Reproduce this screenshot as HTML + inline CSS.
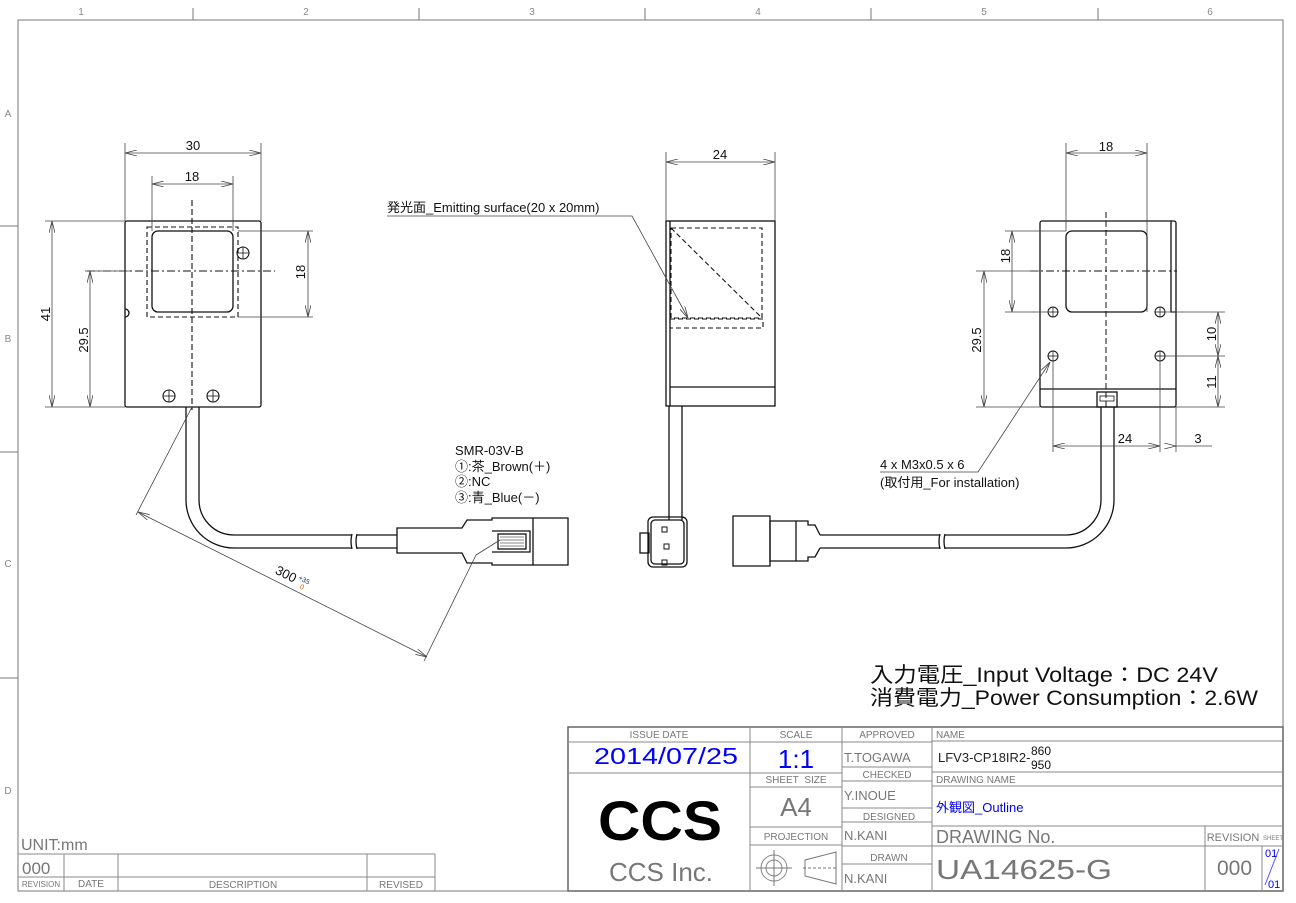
<!DOCTYPE html>
<html><head><meta charset="utf-8"><style>
html,body{margin:0;padding:0;background:#fff;width:1296px;height:903px;overflow:hidden}
svg{display:block}
text{font-family:"Liberation Sans","Noto Sans CJK JP",sans-serif}
</style></head><body>
<svg width="1296" height="903" viewBox="0 0 1296 903" xmlns="http://www.w3.org/2000/svg">
<defs>
<marker id="a" markerWidth="12" markerHeight="6" refX="12" refY="3" orient="auto" markerUnits="userSpaceOnUse"><path d="M0,0 L12,3 L0,6" fill="none" stroke="#444" stroke-width="0.8"/></marker>
<marker id="b" markerWidth="12" markerHeight="6" refX="0" refY="3" orient="auto" markerUnits="userSpaceOnUse"><path d="M12,0 L0,3 L12,6" fill="none" stroke="#444" stroke-width="0.8"/></marker>
</defs>
<!-- frame -->
<g stroke="#777" stroke-width="1" fill="none">
<rect x="18" y="20" width="1265" height="871"/>
<path d="M193,8V20M419,8V20M645,8V20M871,8V20M1098,8V20M0,226H18M0,452H18M0,678H18"/>
</g>
<g fill="#888" font-size="10" text-anchor="middle">
<text x="81" y="15">1</text><text x="306" y="15">2</text><text x="532" y="15">3</text><text x="758" y="15">4</text><text x="984" y="15">5</text><text x="1210" y="15">6</text>
<text x="8" y="117">A</text><text x="8" y="342">B</text><text x="8" y="567">C</text><text x="8" y="794">D</text>
</g>

<!-- LEFT VIEW -->
<g stroke="#111" fill="none" stroke-width="1.3">
<rect x="125" y="221" width="136" height="186" rx="2"/>
<rect x="152" y="231" width="81" height="81" rx="6"/>
<path d="M125,309 a4,4 0 0 1 0,8"/>
<path d="M186,407 V500 a48,48 0 0 0 48,48 H352 M199,407 V500 a35,35 0 0 0 35,35 H352"/>
<path d="M357,535 H397 M357,548 H397 M352,534 q-2,7 0,15 M357,534 q-2,7 0,15"/>
<path d="M397,528 H462 L467,520 H492 V518 H533 V565 H492 V563 H467 L462,553 H397 Z"/>
<path d="M533,518 H568 V565 H533"/><path d="M492,531 H530 V552 H492"/>
<rect x="498" y="534" width="28" height="15"/>
<path d="M500,537H524M500,540H524M500,543H524M500,546H524" stroke-width="0.6"/>
</g>
<g stroke="#111" stroke-width="1.1" fill="none">
<rect x="147" y="227" width="91" height="90" stroke-dasharray="5,3"/>
<path d="M192,200 V410" stroke-dasharray="6,3"/>
<path d="M87,271 H275" stroke-dasharray="8,3,2,3"/>
<circle cx="243" cy="253" r="6"/><circle cx="169" cy="396" r="6"/><circle cx="213" cy="396" r="6"/>
<path d="M237,253h12M243,247v12M163,396h12M169,390v12M207,396h12M213,390v12" stroke-width="0.8"/>
</g>
<g stroke="#444" stroke-width="0.8" fill="none">
<path d="M125,143V221M261,143V221M152,176V231M233,176V231M238,231H313M238,317H313M45,221H125M45,407H125M85,271H130M85,407H125"/>
<path d="M125,153H261" marker-start="url(#b)" marker-end="url(#a)"/>
<path d="M152,184H233" marker-start="url(#b)" marker-end="url(#a)"/>
<path d="M308,231V317" marker-start="url(#b)" marker-end="url(#a)"/>
<path d="M52,221V407" marker-start="url(#b)" marker-end="url(#a)"/>
<path d="M90,271V407" marker-start="url(#b)" marker-end="url(#a)"/>
<path d="M192,407L136,515M476,555L424,661"/>
<path d="M138,512L427,657" marker-start="url(#b)" marker-end="url(#a)"/>
<path d="M476,555L500,540"/>
</g>
<g font-size="13" fill="#111" text-anchor="middle">
<text x="193" y="150">30</text><text x="192" y="181">18</text>
<text transform="translate(305,272) rotate(-90)">18</text>
<text transform="translate(50,314) rotate(-90)">41</text>
<text transform="translate(88,340) rotate(-90)">29.5</text>
<text transform="translate(284,578) rotate(27)">300</text>
<text transform="translate(303,582) rotate(27)" font-size="7" fill="#236">+35</text>
<text transform="translate(301,589) rotate(27)" font-size="7" fill="#c60">0</text>
</g>
<g font-size="13" fill="#111">
<text x="455" y="455">SMR-03V-B</text>
<text x="455" y="471">①:茶_Brown(＋)</text>
<text x="455" y="486">②:NC</text>
<text x="455" y="502">③:青_Blue(－)</text>
</g>

<!-- SIDE VIEW -->
<g stroke="#111" stroke-width="1.3" fill="none">
<rect x="666" y="221" width="109" height="185"/>
<path d="M670,221V406M670,387H775M669,406V520M682,406V520"/>
<rect x="648" y="517" width="39" height="50" rx="5"/><rect x="651" y="520" width="33" height="44" rx="4"/>
<rect x="640" y="533" width="9" height="20"/>
<path d="M662,527h5v5h-5zM664,544h5v5h-5zM662,560h5v5h-5z" stroke-width="1"/>
</g>
<g stroke="#111" stroke-width="1.1" fill="none" stroke-dasharray="5,3">
<rect x="671" y="228" width="91" height="90"/><path d="M671,228L762,318"/>
<rect x="670" y="319" width="93" height="9"/>
</g>
<g stroke="#444" stroke-width="0.8" fill="none">
<path d="M666,152V221M775,152V221"/>
<path d="M666,162H775" marker-start="url(#b)" marker-end="url(#a)"/>
<path d="M387,216H632L688,318" marker-end="url(#a)"/>
</g>
<text x="720" y="159" font-size="13" text-anchor="middle" fill="#111">24</text>
<text x="387" y="212" font-size="13" fill="#111">発光面_Emitting surface(20 x 20mm)</text>

<!-- RIGHT VIEW -->
<g stroke="#111" stroke-width="1.3" fill="none">
<rect x="1040" y="221" width="136" height="186" rx="2"/>
<rect x="1066" y="231" width="81" height="81" rx="6"/>
<path d="M1171,221V312H1176M1040,389H1176"/>
<rect x="1097" y="392" width="20" height="15"/><rect x="1100" y="396" width="14" height="5" stroke-width="0.8"/>
<path d="M1101,407V500 a35,35 0 0 1 -35,35 H945 M1114,407V500 a48,48 0 0 1 -48,48 H945"/>
<path d="M945,534 q-2,7 0,15 M940,534 q-2,7 0,15 M940,535H820M940,548H820"/>
<path d="M820,535 L815,525 H808 V521 H770 V561 H808 V557 H815 L820,548"/>
<path d="M796,521V561M770,516V566M733,516H770V566H733Z"/>
</g>
<g stroke="#111" stroke-width="1" fill="none">
<circle cx="1053" cy="312" r="5"/><circle cx="1160" cy="312" r="5"/><circle cx="1053" cy="356" r="5"/><circle cx="1160" cy="356" r="5"/>
<path d="M1053,307v10M1048,312h10M1160,307v10M1155,312h10M1053,351v10M1048,356h10M1160,351v10M1155,356h10" stroke-width="0.7"/>
<path d="M1106,212V410" stroke-dasharray="6,3"/>
<path d="M1030,271H1177" stroke-dasharray="8,3,2,3"/>
</g>
<g stroke="#444" stroke-width="0.8" fill="none">
<path d="M1066,143V231M1147,143V312M1005,231H1066M1005,312H1050M976,271H1040M976,407H1040M1165,312H1225M1165,356H1225M1176,407H1225M1053,361V452M1160,361V452M1176,407V452"/>
<path d="M1066,153H1147" marker-start="url(#b)" marker-end="url(#a)"/>
<path d="M1012,231V312" marker-start="url(#b)" marker-end="url(#a)"/>
<path d="M984,271V407" marker-start="url(#b)" marker-end="url(#a)"/>
<path d="M1218,312V356" marker-start="url(#b)" marker-end="url(#a)"/>
<path d="M1218,356V407" marker-start="url(#b)" marker-end="url(#a)"/>
<path d="M1053,446H1160" marker-start="url(#b)" marker-end="url(#a)"/>
<path d="M1176,446H1212" marker-start="url(#a)"/>
<path d="M880,472H978L1050,362" marker-end="url(#a)"/>
</g>
<g font-size="13" fill="#111" text-anchor="middle">
<text x="1106" y="151">18</text>
<text transform="translate(1010,256) rotate(-90)">18</text>
<text transform="translate(981,340) rotate(-90)">29.5</text>
<text transform="translate(1216,334) rotate(-90)">10</text>
<text transform="translate(1216,382) rotate(-90)">11</text>
<text x="1125" y="443">24</text><text x="1198" y="443">3</text>
</g>
<g font-size="13" fill="#111">
<text x="880" y="469">4 x M3x0.5 x 6</text>
<text x="880" y="487">(取付用_For installation)</text>
</g>

<!-- power -->
<g font-size="21" fill="#111">
<text x="870" y="682" textLength="348" lengthAdjust="spacingAndGlyphs">入力電圧_Input Voltage：DC 24V</text>
<text x="870" y="705" textLength="388" lengthAdjust="spacingAndGlyphs">消費電力_Power Consumption：2.6W</text>
</g>

<!-- TITLE BLOCK -->
<g stroke="#888" stroke-width="1" fill="none">
<rect x="568" y="727" width="715" height="164" stroke="#666" stroke-width="1.5"/>
<path d="M750,727V891M842,727V891M932,727V891M1205,826V891M1262,846V891"/>
<path d="M568,742H932M568,773H842M750,787H842M750,827H842M750,845H842M842,767H932M842,781H932M842,808H932M842,822H932M842,846H932M842,864H932M932,741H1283M932,772H1283M932,786H1283M932,826H1283M932,846H1283"/>
<circle cx="774" cy="868" r="13"/><circle cx="774" cy="868" r="8"/><path d="M756,868H792M774,850V886M805,860L836,852V884L805,876Z" stroke="#777"/>
<path d="M803,868H838" stroke-dasharray="3,2" stroke="#777"/>
<path d="M1265,885L1279,849" stroke="#55f"/>
</g>
<g font-size="10" fill="#777" text-anchor="middle">
<text x="659" y="738">ISSUE DATE</text><text x="796" y="738">SCALE</text><text x="887" y="738">APPROVED</text>
<text x="796" y="783">SHEET&#160;&#160;SIZE</text><text x="796" y="840">PROJECTION</text>
<text x="887" y="778">CHECKED</text><text x="889" y="820">DESIGNED</text><text x="889" y="861">DRAWN</text>
<text x="1233" y="841" font-size="11">REVISION</text><text x="1273" y="840" font-size="6">SHEET</text>
</g>
<g font-size="10" fill="#777">
<text x="936" y="738">NAME</text><text x="936" y="783">DRAWING NAME</text>
</g>
<g fill="#777">
<text x="844" y="762" font-size="13">T.TOGAWA</text>
<text x="844" y="800" font-size="13">Y.INOUE</text>
<text x="844" y="840" font-size="13">N.KANI</text>
<text x="844" y="883" font-size="13">N.KANI</text>
<text x="936" y="843" font-size="18">DRAWING No.</text>
<text x="936" y="879" font-size="28" textLength="176" lengthAdjust="spacingAndGlyphs">UA14625-G</text>
<text x="1217" y="875" font-size="21">000</text>
<text x="796" y="816" font-size="26" text-anchor="middle">A4</text>
<text x="661" y="881" font-size="26" text-anchor="middle">CCS Inc.</text>
</g>
<g fill="#00f">
<text x="594" y="764" font-size="23" textLength="144" lengthAdjust="spacingAndGlyphs">2014/07/25</text>
<text x="796" y="768" font-size="26" text-anchor="middle">1:1</text>
<text x="936" y="812" font-size="13">外観図_Outline</text>
<text x="1265" y="857" font-size="11">01</text>
<text x="1268" y="888" font-size="11">01</text>
</g>
<text x="938" y="762" font-size="13" fill="#222">LFV3-CP18IR2-</text>
<text x="1031" y="755" font-size="12" fill="#111">860</text>
<text x="1031" y="769" font-size="12" fill="#111">950</text>
<!-- logo -->
<text x="598" y="840" font-size="56" font-weight="bold" fill="#000" textLength="124" lengthAdjust="spacingAndGlyphs">CCS</text>

<!-- REVISION TABLE -->
<g stroke="#888" stroke-width="1" fill="none">
<path d="M18,854H435V891M64,854V891M118,854V891M367,854V891M18,877H435"/>
</g>
<g fill="#777">
<text x="21" y="850" font-size="16">UNIT:mm</text>
<text x="22" y="874" font-size="17">000</text>
<g font-size="10" text-anchor="middle"><text x="41" y="887" font-size="8">REVISION</text><text x="91" y="887">DATE</text><text x="243" y="888">DESCRIPTION</text><text x="401" y="888">REVISED</text></g>
</g>
</svg>
</body></html>
